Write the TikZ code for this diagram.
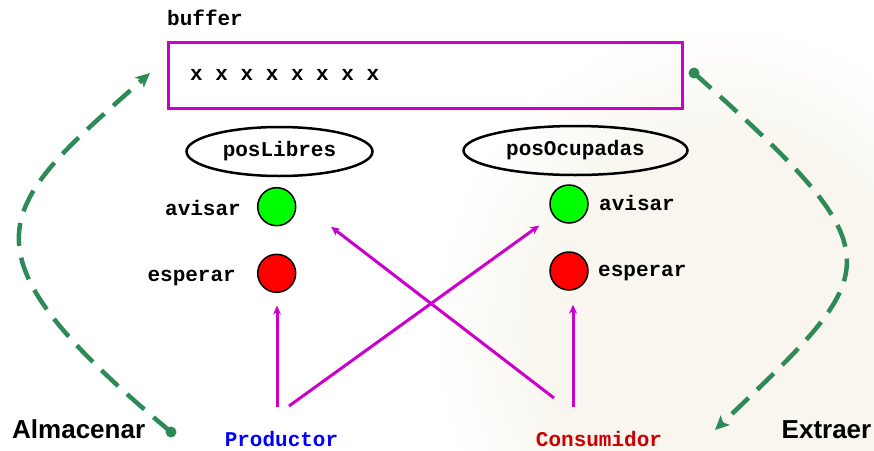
\documentclass[tikz,border=0pt]{standalone}
\usepackage{fontspec}
\setmainfont{Liberation Sans}
\setsansfont{Liberation Sans}
\setmonofont{Liberation Mono}
\usetikzlibrary{arrows.meta,shapes.geometric}

\definecolor{mag}{RGB}{204,0,204}
\definecolor{flow}{RGB}{46,139,87}
\definecolor{prodblue}{RGB}{0,0,255}
\definecolor{consred}{RGB}{204,0,0}
\definecolor{lampgreen}{RGB}{0,255,0}
\definecolor{lampred}{RGB}{255,0,0}
\definecolor{paper}{RGB}{248,246,238}

% soft-edged tint: flat centre, fading out to white
\pgfdeclareradialshading{papertint}{\pgfpoint{0bp}{0bp}}{%
  color(0bp)=(paper); color(15bp)=(paper); color(25bp)=(white); color(50bp)=(white)}

\tikzset{
  code/.style={font=\fontsize{21}{24}\selectfont\ttfamily\bfseries, inner sep=0pt},
  caption/.style={font=\fontsize{26}{30}\selectfont\sffamily\bfseries, inner sep=0pt},
  sem/.style={code, ellipse, draw, line width=2.5pt},
  lamp/.style={circle, draw, line width=1.5pt, minimum size=38pt, inner sep=0pt},
  signal/.style={draw=mag, line width=3pt, -{Stealth[length=9pt,width=8pt]}},
  flowline/.style={draw=flow, line width=4.5pt, dash pattern=on 23pt off 12pt,
                   -{Stealth[length=14pt,width=13pt,inset=3pt]}},
  flowdot/.style={circle, fill=flow, minimum size=11pt, inner sep=0pt}
}

\begin{document}
\begin{tikzpicture}[x=1pt, y=-1pt]
  \useasboundingbox (0,0) rectangle (874,450);

  % faint paper tint on the right
  \begin{scope}
    \clip (0,0) rectangle (874,450);
    \shade[shading=papertint] (430,20) rectangle (1010,640);
  \end{scope}

  % shared buffer
  \node[code, anchor=base west] (buflabel) at (167,25) {buffer};
  \node[draw=mag, line width=3pt, minimum width=514pt, minimum height=66pt,
        inner sep=0pt, anchor=north west] (buf) at (167,41) {};
  \node[code, anchor=base west] (items) at (190,80) {x x x x x x x x};

  % semaphores
  \node[sem, minimum width=186pt, minimum height=49pt] (libres) at (279.5,151.5) {posLibres};
  \node[sem, minimum width=224pt, minimum height=49pt] (ocupadas) at (575.5,150.5) {posOcupadas};

  \node[lamp, fill=lampgreen] (libresAv) at (276.7,206.7) {};
  \node[lamp, fill=lampred] (libresEsp) at (276.7,273.3) {};
  \node[lamp, fill=lampgreen] (ocuAv) at (569,204) {};
  \node[lamp, fill=lampred] (ocuEsp) at (569,271) {};

  \node[code, anchor=base east] (libresAvTxt) at (241,215) {avisar};
  \node[code, anchor=base east] (libresEspTxt) at (236,281.5) {esperar};
  \node[code, anchor=base west] (ocuAvTxt) at (599,210) {avisar};
  \node[code, anchor=base west] (ocuEspTxt) at (598,276.7) {esperar};

  % processes
  \node[code, text=prodblue, anchor=base] (prod) at (281.5,446.7) {Productor};
  \node[code, text=consred, anchor=base] (cons) at (599,446.7) {Consumidor};

  \node[caption, anchor=base west] (alm) at (12,438) {Almacenar};
  \node[caption, anchor=base west] (ext) at (781.5,438) {Extraer};

  % signal arrows
  \coordinate (prodUp) at (277,407);
  \coordinate (prodDiag) at (289,406);
  \coordinate (consDiag) at (554,398);
  \coordinate (consUp) at (573,407);
  \coordinate (consTip) at (331,226.7);

  \draw[signal, shorten >=12.5pt] (prodUp) -- (prodUp |- libresEsp.south);
  \draw[signal, shorten >=17pt] (prodDiag) -- (ocuAv);
  \draw[signal] (consDiag) -- (consTip);
  \draw[signal, shorten >=14pt] (consUp) -- (consUp |- ocuEsp.south);

  % store / extract flows
  \node[flowdot] (almDot) at (171,432) {};
  \coordinate (almTip) at (150,73);
  \draw[flowline] (almDot.center) .. controls (-52.6,245.7) and (-1.3,207.2) .. (almTip);

  \node[flowdot] (extDot) at (694,73) {};
  \coordinate (extTip) at (715,430);
  \draw[flowline] (extDot.center) .. controls (901.2,258) and (885,267.6) .. (extTip);
\end{tikzpicture}
\end{document}
